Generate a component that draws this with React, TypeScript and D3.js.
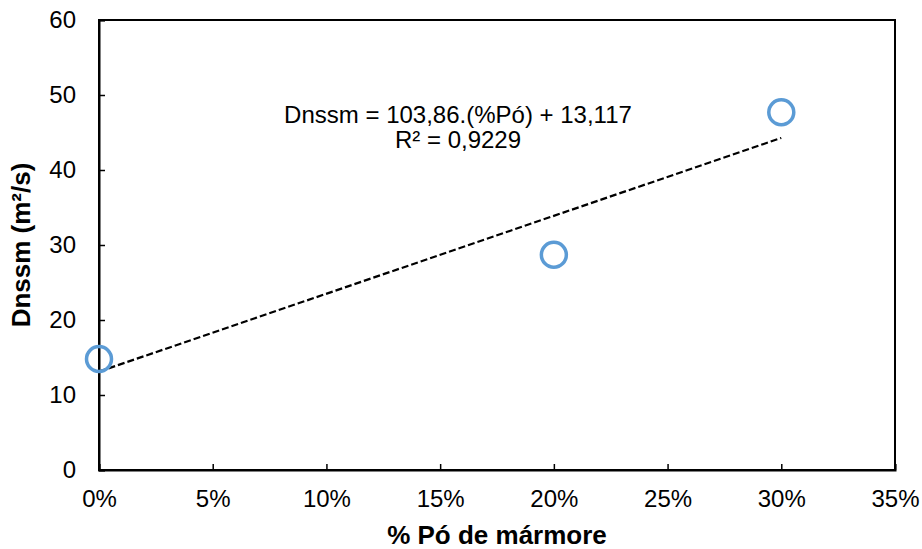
import * as d3 from "d3";
import React, { useEffect, useRef } from "react";

const poMarmore = [0, 0.2, 0.3]; // fraction of marble powder
const dnssm = [14.8, 28.7, 47.7];
const xTicks = [0, 0.05, 0.1, 0.15, 0.2, 0.25, 0.3, 0.35];
const yTicks = [0, 10, 20, 30, 40, 50, 60];
const slope = 103.86;
const intercept = 13.117;
const eqLines = ["Dnssm = 103,86.(%Pó) + 13,117", "R² = 0,9229"];

export default function App() {
  const ref = useRef<SVGSVGElement | null>(null);

  useEffect(() => {
    const svg = d3.select(ref.current);
    svg.selectAll("*").remove();

    const width = 922;
    const height = 549;
    const margin = { top: 20, right: 27, bottom: 79, left: 99 };
    const font = "'Liberation Sans', Arial, sans-serif";

    svg.attr("width", width).attr("height", height);

    const x = d3.scaleLinear().domain([0, 0.35]).range([margin.left, width - margin.right]);
    const y = d3.scaleLinear().domain([0, 60]).range([height - margin.bottom, margin.top]);

    // box
    svg
      .append("rect")
      .attr("x", x(0))
      .attr("y", y(60))
      .attr("width", x(0.35) - x(0))
      .attr("height", y(0) - y(60))
      .attr("fill", "none")
      .attr("stroke", "#000")
      .attr("stroke-width", 2);

    const xAxis = svg
      .append("g")
      .attr("transform", `translate(0,${y(0)})`)
      .call(
        d3
          .axisBottom(x)
          .tickValues(xTicks)
          .tickSize(-6)
          .tickPadding(20)
          .tickFormat((d) => `${Math.round(+d * 100)}%`)
      );
    const yAxis = svg
      .append("g")
      .attr("transform", `translate(${x(0)},0)`)
      .call(d3.axisLeft(y).tickValues(yTicks).tickSize(-6).tickPadding(23));

    [xAxis, yAxis].forEach((g) => {
      g.select(".domain").attr("stroke-width", 2);
      g.selectAll(".tick line").attr("stroke-width", 1.5);
      g.selectAll(".tick text")
        .attr("font-family", font)
        .attr("font-size", 24)
        .attr("fill", "#000");
    });

    // trendline
    svg
      .append("line")
      .attr("x1", x(0))
      .attr("y1", y(intercept))
      .attr("x2", x(0.3))
      .attr("y2", y(intercept + slope * 0.3))
      .attr("stroke", "#000")
      .attr("stroke-width", 2.2)
      .attr("stroke-dasharray", "7,3");

    // points
    svg
      .append("g")
      .selectAll("circle")
      .data(poMarmore)
      .enter()
      .append("circle")
      .attr("cx", (d) => x(d))
      .attr("cy", (d, i) => y(dnssm[i]))
      .attr("r", 12.5)
      .attr("fill", "none")
      .attr("stroke", "#5B9BD5")
      .attr("stroke-width", 3.5);

    // equation
    svg
      .append("g")
      .selectAll("text")
      .data(eqLines)
      .enter()
      .append("text")
      .attr("x", 458)
      .attr("y", (d, i) => 123 + i * 25)
      .attr("text-anchor", "middle")
      .attr("font-family", font)
      .attr("font-size", 24)
      .text((d) => d);

    // axis titles
    svg
      .append("text")
      .attr("x", (x(0) + x(0.35)) / 2)
      .attr("y", 544)
      .attr("text-anchor", "middle")
      .attr("font-family", font)
      .attr("font-size", 26)
      .attr("font-weight", "bold")
      .text("% Pó de mármore");

    svg
      .append("text")
      .attr("transform", `translate(30,${(y(0) + y(60)) / 2}) rotate(-90)`)
      .attr("text-anchor", "middle")
      .attr("font-family", font)
      .attr("font-size", 26)
      .attr("font-weight", "bold")
      .text("Dnssm (m²/s)");
  }, []);

  return <svg ref={ref} style={{ position: "absolute", left: 0, top: 0 }} />;
}
